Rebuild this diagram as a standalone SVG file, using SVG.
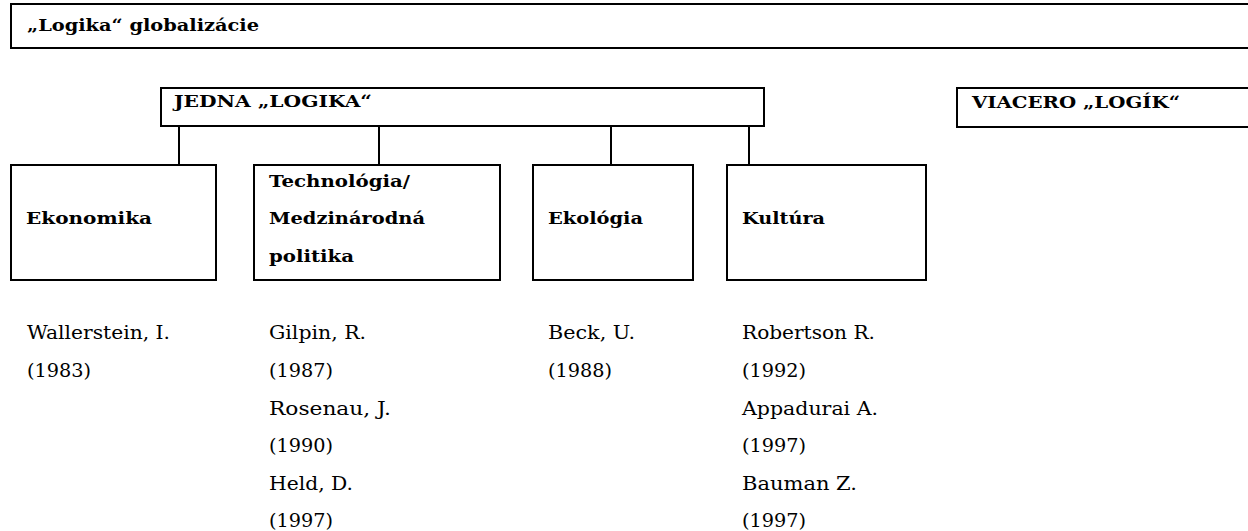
<svg xmlns="http://www.w3.org/2000/svg" width="1248" height="531" viewBox="0 0 1248 531">
<style>
.box{fill:#fff;stroke:#000;stroke-width:2}
.con{stroke:#000;stroke-width:2;fill:none}
.b{font-family:"DejaVu Serif","Liberation Serif",serif;font-weight:bold;font-size:16px;fill:#000}
.r{font-family:"DejaVu Serif","Liberation Serif",serif;font-size:19px;fill:#000}
</style>
<rect width="1248" height="531" fill="#fff"/>
<g id="title">
<rect class="box" x="11" y="4" width="1250" height="44"/>
<text class="b" x="27" y="31" textLength="232" lengthAdjust="spacingAndGlyphs">„Logika“ globalizácie</text>
</g>
<g id="connectors">
<line class="con" x1="179" y1="126" x2="179" y2="165"/>
<line class="con" x1="379" y1="126" x2="379" y2="165"/>
<line class="con" x1="611" y1="126" x2="611" y2="165"/>
<line class="con" x1="749" y1="126" x2="749" y2="165"/>
</g>
<g id="jedna">
<rect class="box" x="161" y="88" width="603" height="38"/>
<text class="b" x="174" y="107" textLength="198" lengthAdjust="spacingAndGlyphs">JEDNA „LOGIKA“</text>
</g>
<g id="viacero">
<rect class="box" x="957" y="88" width="300" height="39"/>
<text class="b" x="972" y="108" textLength="208" lengthAdjust="spacingAndGlyphs">VIACERO „LOGÍK“</text>
</g>
<g id="ekonomika">
<rect class="box" x="11" y="165" width="205" height="115"/>
<text class="b" x="26" y="224" textLength="126" lengthAdjust="spacingAndGlyphs">Ekonomika</text>
</g>
<g id="technologia">
<rect class="box" x="254" y="165" width="246" height="115"/>
<text class="b" x="269" y="186.5" textLength="141" lengthAdjust="spacingAndGlyphs">Technológia/</text>
<text class="b" x="269" y="224" textLength="156" lengthAdjust="spacingAndGlyphs">Medzinárodná</text>
<text class="b" x="269" y="261.5" textLength="85" lengthAdjust="spacingAndGlyphs">politika</text>
</g>
<g id="ekologia">
<rect class="box" x="533" y="165" width="160" height="115"/>
<text class="b" x="548" y="224" textLength="95" lengthAdjust="spacingAndGlyphs">Ekológia</text>
</g>
<g id="kultura">
<rect class="box" x="727" y="165" width="199" height="115"/>
<text class="b" x="742" y="224" textLength="83" lengthAdjust="spacingAndGlyphs">Kultúra</text>
</g>
<g id="refs-ekonomika">
<text class="r" x="27" y="339.3" textLength="143" lengthAdjust="spacingAndGlyphs">Wallerstein, I.</text>
<text class="r" x="27" y="377" textLength="64" lengthAdjust="spacingAndGlyphs">(1983)</text>
</g>
<g id="refs-technologia">
<text class="r" x="269" y="339.3" textLength="97" lengthAdjust="spacingAndGlyphs">Gilpin, R.</text>
<text class="r" x="269" y="377" textLength="64" lengthAdjust="spacingAndGlyphs">(1987)</text>
<text class="r" x="269" y="414.5" textLength="122" lengthAdjust="spacingAndGlyphs">Rosenau, J.</text>
<text class="r" x="269" y="452.2" textLength="64" lengthAdjust="spacingAndGlyphs">(1990)</text>
<text class="r" x="269" y="489.7" textLength="84" lengthAdjust="spacingAndGlyphs">Held, D.</text>
<text class="r" x="269" y="527.4" textLength="64" lengthAdjust="spacingAndGlyphs">(1997)</text>
</g>
<g id="refs-ekologia">
<text class="r" x="548" y="339.3" textLength="87" lengthAdjust="spacingAndGlyphs">Beck, U.</text>
<text class="r" x="548" y="377" textLength="64" lengthAdjust="spacingAndGlyphs">(1988)</text>
</g>
<g id="refs-kultura">
<text class="r" x="742" y="339.3" textLength="133" lengthAdjust="spacingAndGlyphs">Robertson R.</text>
<text class="r" x="742" y="377" textLength="64" lengthAdjust="spacingAndGlyphs">(1992)</text>
<text class="r" x="742" y="414.5" textLength="136" lengthAdjust="spacingAndGlyphs">Appadurai A.</text>
<text class="r" x="742" y="452.2" textLength="64" lengthAdjust="spacingAndGlyphs">(1997)</text>
<text class="r" x="742" y="489.7" textLength="115" lengthAdjust="spacingAndGlyphs">Bauman Z.</text>
<text class="r" x="742" y="527.4" textLength="64" lengthAdjust="spacingAndGlyphs">(1997)</text>
</g>
</svg>
